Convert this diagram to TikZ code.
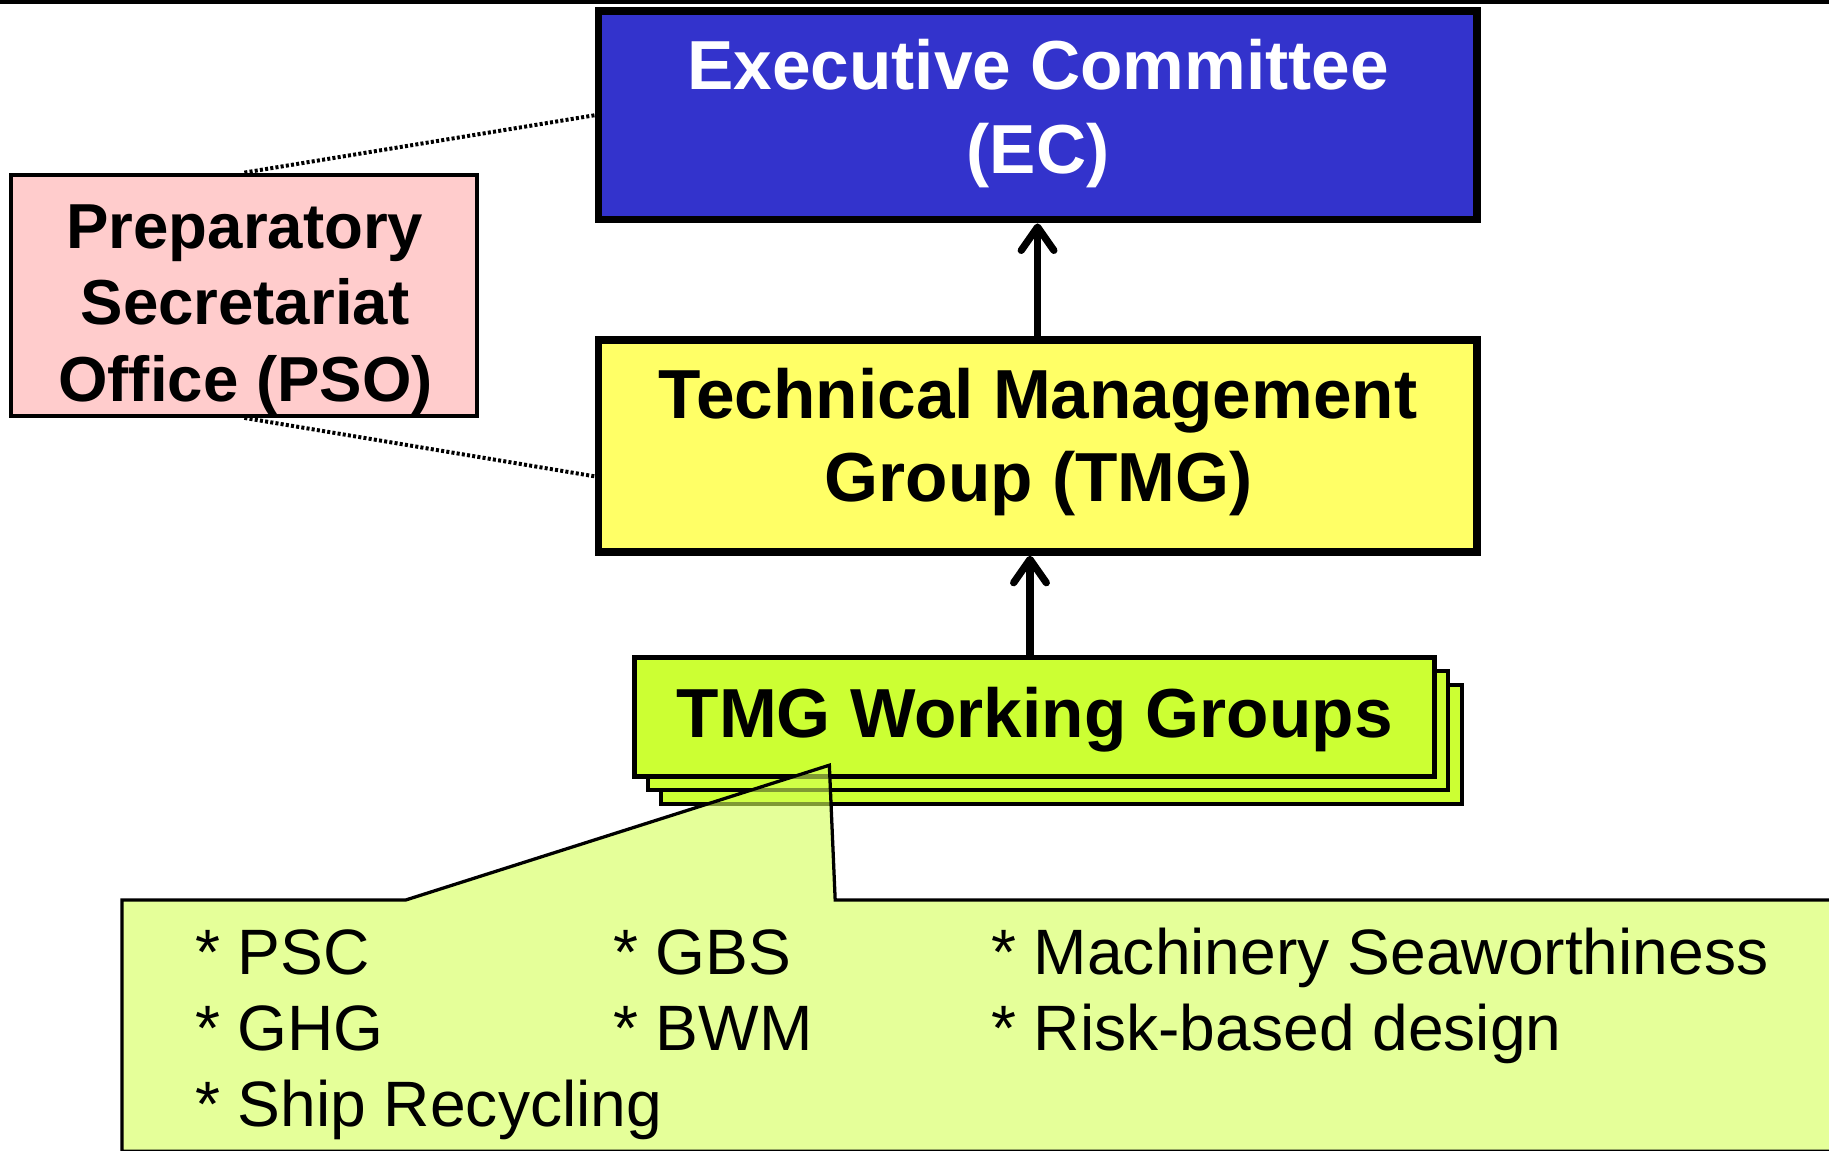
\documentclass[tikz,border=0pt]{standalone}
\usepackage{fontspec}
\setmainfont{Liberation Sans}
\usetikzlibrary{arrows.meta}
\definecolor{ecblue}{RGB}{51,51,204}
\definecolor{tmgyellow}{RGB}{255,255,102}
\definecolor{psopink}{RGB}{255,204,204}
\definecolor{wggreen}{RGB}{204,255,51}
\definecolor{callgreen}{RGB}{212,255,85}
\begin{document}
\begin{tikzpicture}[x=1pt,y=1pt,
  bigbox/.style={draw=black, rectangle, inner sep=0pt, line width=6.5pt, minimum width=753pt},
  bigtext/.style={font=\fontsize{59.5}{72}\selectfont\bfseries, inner sep=0pt, anchor=base},
  psotext/.style={font=\fontsize{54.5}{65}\selectfont\bfseries, inner sep=0pt, anchor=base},
  wgbox/.style={draw=black, rectangle, inner sep=0pt, line width=3.5pt, fill=wggreen, minimum width=686pt, minimum height=102pt},
  calltext/.style={font=\fontsize{55}{66}\selectfont, inner sep=0pt, anchor=base west},
  conn/.style={line width=6.2pt, -{Straight Barb[length=20pt,width=28pt,round]}},
  dotline/.style={line width=3.4pt, dash pattern=on 2.6pt off 1.9pt},
]
\useasboundingbox (0,0) rectangle (1568,-986);
\clip (0,0) rectangle (1568,-986);
% top rule
\fill[black] (0,0) rectangle (1568,-3.4);

% boxes and dotted links
\node[draw=black, line width=3.5pt, fill=psopink, rectangle, inner sep=0pt,
      minimum width=399.6pt, minimum height=206.8pt] (pso) at (209.5,-253.1) {};
\node[bigbox, fill=ecblue, minimum height=179pt] (ec) at (889.5,-98.8) {};
\node[bigbox, fill=tmgyellow, minimum height=181.7pt] (tmg) at (889.5,-382.35) {};
\draw[dotline] (pso.north) -- (ec.west);
\draw[dotline] (pso.south) -- ([yshift=-26pt]tmg.west);

\node[bigtext, white] (ect1) at (890,-77) {Executive Committee};
\node[bigtext, white] (ect2) at (890,-149) {(EC)};
\node[bigtext] (tmgt1) at (890,-359) {Technical Management};
\node[bigtext] (tmgt2) at (890.5,-430) {Group (TMG)};
\node[psotext] (psot1) at (210,-213) {Preparatory};
\node[psotext] (psot2) at (210,-278.5) {Secretariat};
\node[psotext] (psot3) at (210.5,-344) {Office (PSO)};

% working groups stack
\node[wgbox] (wg3) at (910,-638) {};
\node[wgbox] (wg2) at (898.5,-626.5) {};
\node[wgbox, line width=4.3pt] (wg1) at (887,-615) {};
\node[bigtext] (wgt) at (887,-632) {TMG Working Groups};

% arrows
\draw[conn] (tmg.north) -- (ec.south);
\draw[conn] ([xshift=-4pt]wg1.north) -- ([xshift=-4pt]wg1.north |- tmg.south);

% callout
\coordinate (ctip) at (711,-656);
\filldraw[draw=black, line width=2.8pt, fill=callgreen, fill opacity=0.6, line join=miter]
  (104.6,-987) -- (104.6,-771.5) -- (348,-771.5) -- (ctip) -- (716,-771.5)
  -- (1585,-771.5) -- (1585,-987) -- cycle;

\node[calltext] (c1) at (167,-835) {* PSC};
\node[calltext] (c2) at (167,-900.5) {* GHG};
\node[calltext] (c3) at (167,-966) {* Ship Recycling};
\node[calltext] (c4) at (525.5,-835) {* GBS};
\node[calltext] (c5) at (525.5,-900.5) {* BWM};
\node[calltext] (c6) at (849.5,-835) {* Machinery Seaworthiness};
\node[calltext] (c7) at (849.5,-900.5) {* Risk-based design};
\end{tikzpicture}
\end{document}
